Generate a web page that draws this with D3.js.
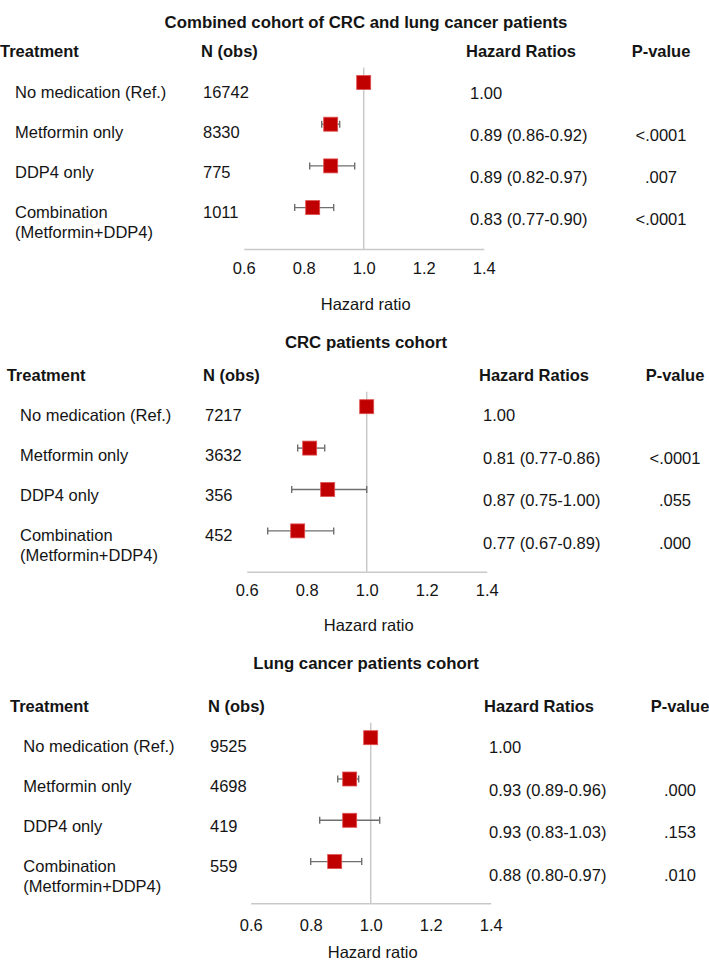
<!DOCTYPE html>
<html><head><meta charset="utf-8">
<script src="https://cdn.jsdelivr.net/npm/d3@7"></script>
<style>body{margin:0;background:#fff}svg{display:block;font-family:"Liberation Sans",Arial,sans-serif}</style>
</head><body><div id="c"></div>
<script>
// ---- data ----
const titles = ["Combined cohort of CRC and lung cancer patients", "CRC patients cohort", "Lung cancer patients cohort"];
const treatments = ["No medication (Ref.)", "Metformin only", "DDP4 only", "Combination|(Metformin+DDP4)"];
const nObs = [[16742, 8330, 775, 1011], [7217, 3632, 356, 452], [9525, 4698, 419, 559]];
const hr = [[1.00, 0.89, 0.89, 0.83], [1.00, 0.81, 0.87, 0.77], [1.00, 0.93, 0.93, 0.88]];
const ciLow = [[null, 0.86, 0.82, 0.77], [null, 0.77, 0.75, 0.67], [null, 0.89, 0.83, 0.80]];
const ciHigh = [[null, 0.92, 0.97, 0.90], [null, 0.86, 1.00, 0.89], [null, 0.96, 1.03, 0.97]];
const pValues = [["", "<.0001", ".007", "<.0001"], ["", "<.0001", ".055", ".000"], ["", ".000", ".153", ".010"]];
const tickValues = [0.6, 0.8, 1.0, 1.2, 1.4];
const headers = ["Treatment", "N (obs)", "Hazard Ratios", "P-value"];
const axisTitle = "Hazard ratio";

// ---- layout ----
const layout = [
  {titleY:22, headY:51, treatX:0, labelX:15, nX:203, hrHeadX:466, hrX:470, pX:661, lY:92, lStep:40, rY:93, rStep:42,
   x06:243.7, mY:82.5, mStep:41.7, axisY:249, tickY:268, xlabY:304},
  {titleY:342, headY:375, treatX:6.7, labelX:20, nX:205, hrHeadX:479, hrX:483, pX:675, lY:415, lStep:40, rY:415, rStep:42.7,
   x06:246.7, mY:406.7, mStep:41.4, axisY:571.7, tickY:590, xlabY:625},
  {titleY:663, headY:706, treatX:10, labelX:23.3, nX:210, hrHeadX:484, hrX:489, pX:680, lY:746, lStep:40, rY:746.7, rStep:42.8,
   x06:250.7, mY:737.7, mStep:41.3, axisY:903.3, tickY:925, xlabY:952}
];
const FS = 16.5;

const svg = d3.select("#c").append("svg").attr("width", 709).attr("height", 962);

function fmtHR(p, i) {
  if (ciLow[p][i] == null) return hr[p][i].toFixed(2);
  return `${hr[p][i].toFixed(2)} (${ciLow[p][i].toFixed(2)}-${ciHigh[p][i].toFixed(2)})`;
}

layout.forEach((L, p) => {
  const g = svg.append("g");
  const txt = (x, y, s, opts = {}) => g.append("text").attr("x", x).attr("y", y)
    .attr("dominant-baseline", "central").attr("font-size", opts.fs || FS)
    .attr("font-weight", opts.bold ? "bold" : "normal").attr("text-anchor", opts.anchor || "start")
    .attr("fill", "#141414").text(s);

  txt(366, L.titleY, titles[p], {bold: true, anchor: "middle", fs: 16.8});
  txt(L.treatX, L.headY, headers[0], {bold: true});
  txt(L.nX - 2, L.headY, headers[1], {bold: true});
  txt(L.hrHeadX, L.headY, headers[2], {bold: true});
  txt(L.pX, L.headY, headers[3], {bold: true, anchor: "middle"});

  treatments.forEach((t, i) => {
    const yl = L.lY + i * L.lStep, yr = L.rY + i * L.rStep;
    const parts = t.split("|");
    parts.forEach((s, k) => txt(L.labelX, yl + k * 19.5, s));
    txt(L.nX, yl, nObs[p][i]);
    txt(L.hrX, yr, fmtHR(p, i));
    if (pValues[p][i]) txt(L.pX, yr, pValues[p][i], {anchor: "middle"});
  });

  const x = d3.scaleLinear().domain([0.6, 1.4]).range([L.x06, L.x06 + 240]);
  const rowY = i => L.mY + i * L.mStep;

  // reference line
  g.append("line").attr("x1", x(1)).attr("x2", x(1))
    .attr("y1", rowY(0) - 15).attr("y2", L.axisY)
    .attr("stroke", "#c9c9c9").attr("stroke-width", 1.5);

  // axis
  const ax = g.append("g").attr("transform", `translate(0,${L.axisY})`)
    .call(d3.axisBottom(x).tickValues(tickValues).tickSize(0).tickPadding(L.tickY - L.axisY - 6).tickFormat(d3.format(".1f")));
  ax.select(".domain").attr("stroke", "#c9c9c9").attr("stroke-width", 1.5);
  ax.selectAll("text").attr("font-size", FS).attr("fill", "#141414").attr("font-family", "'Liberation Sans',Arial,sans-serif");

  txt(x(1) + 2, L.xlabY, axisTitle, {anchor: "middle"});

  // error bars
  hr[p].forEach((v, i) => {
    if (ciLow[p][i] == null) return;
    const y = rowY(i);
    g.append("line").attr("x1", x(ciLow[p][i])).attr("x2", x(ciHigh[p][i])).attr("y1", y).attr("y2", y)
      .attr("stroke", "#6f6f6f").attr("stroke-width", 1.4);
    [ciLow[p][i], ciHigh[p][i]].forEach(c => g.append("line").attr("x1", x(c)).attr("x2", x(c))
      .attr("y1", y - 3.5).attr("y2", y + 3.5).attr("stroke", "#6f6f6f").attr("stroke-width", 1.4));
  });
  // markers
  hr[p].forEach((v, i) => {
    g.append("rect").attr("x", x(v) - 7).attr("y", rowY(i) - 7).attr("width", 14).attr("height", 14)
      .attr("fill", "#c00000").attr("stroke", "#e05050").attr("stroke-width", 0.8);
  });
});
</script></body></html>
